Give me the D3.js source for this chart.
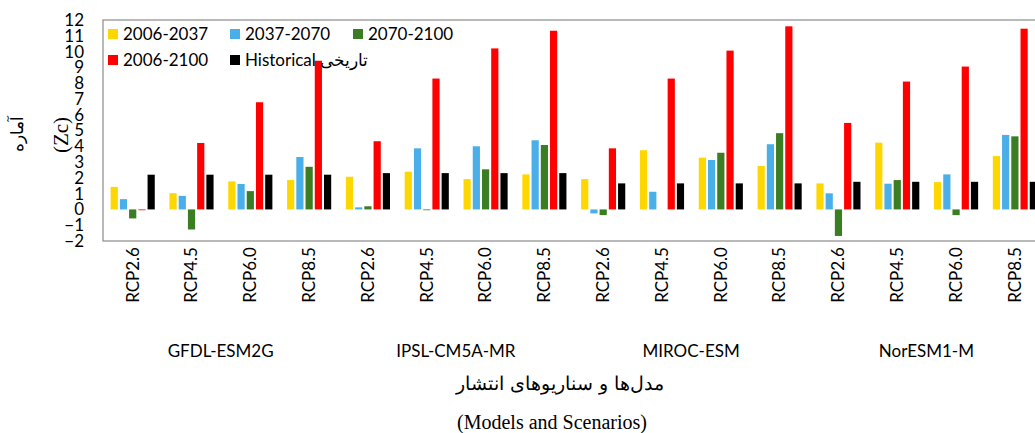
<!DOCTYPE html>
<html>
<head>
<meta charset="utf-8">
<script src="https://cdnjs.cloudflare.com/ajax/libs/d3/7.8.5/d3.min.js"></script>
<style>
  body { margin: 0; background: #fff; }
  svg { display: block; }
  .tick-lbl { font-family: Lato, 'Open Sans', sans-serif; font-size: 17px; fill: #000; }
  .serif { font-family: 'Liberation Serif', 'DejaVu Serif', serif; fill: #000; }
</style>
</head>
<body>
<div id="chart"></div>
<script>
// data
var models = ['GFDL-ESM2G', 'IPSL-CM5A-MR', 'MIROC-ESM', 'NorESM1-M'];
var scenarios = ['RCP2.6', 'RCP4.5', 'RCP6.0', 'RCP8.5'];
var seriesNames = ['2006-2037', '2037-2070', '2070-2100', '2006-2100', 'Historical تاریخی'];
var yTicks = [-2, -1, 0, 1, 2, 3, 4, 5, 6, 7, 8, 9, 10, 11, 12];

var p2006_2037 = [1.43, 1.03, 1.78, 1.86, 2.07, 2.39, 1.92, 2.22, 1.92, 3.75, 3.28, 2.75, 1.65, 4.23, 1.73, 3.38];
var p2037_2070 = [0.65, 0.86, 1.61, 3.32, 0.13, 3.87, 4.0, 4.38, -0.25, 1.12, 3.13, 4.13, 1.02, 1.63, 2.22, 4.72];
var p2070_2100 = [-0.57, -1.27, 1.16, 2.7, 0.2, -0.05, 2.54, 4.08, -0.36, 0, 3.59, 4.83, -1.68, 1.86, -0.36, 4.63];
var p2006_2100 = [-0.05, 4.21, 6.79, 9.42, 4.32, 8.29, 10.2, 11.32, 3.87, 8.29, 10.06, 11.6, 5.48, 8.1, 9.05, 11.45];
var historical = [2.2, 2.2, 2.2, 2.2, 2.3, 2.3, 2.3, 2.3, 1.65, 1.65, 1.65, 1.65, 1.75, 1.75, 1.75, 1.75];

var colors = ['#ffd700', '#4aaee8', '#3a7d22', '#ff0000', '#000000'];

var svgWidth = 1035;
var svgHeight = 433;

var margin = { top: 20, right: -9, bottom: 192, left: 103 };
var width = svgWidth - margin.left - margin.right;
var height = svgHeight - margin.top - margin.bottom;

var svg = d3
  .select('#chart')
  .append('svg')
  .attr('width', svgWidth)
  .attr('height', svgHeight);

var chartGroup = svg
  .append('g')
  .attr('transform', `translate(${margin.left}, ${margin.top})`);

// one row per model/scenario pair
var categories = [];
models.forEach(function (m) {
  scenarios.forEach(function (s) {
    categories.push({ model: m, scen: s });
  });
});
var allSeries = [p2006_2037, p2037_2070, p2070_2100, p2006_2100, historical];

var x0 = d3.scaleBand().domain(d3.range(categories.length)).range([0, width]);
var x1 = d3
  .scaleBand()
  .domain(d3.range(seriesNames.length))
  .range([x0.bandwidth() * 0.13, x0.bandwidth() * 0.88])
  .paddingInner(0.22);
var y = d3.scaleLinear().domain([-2, 12]).range([height, 0]);

// frame
chartGroup
  .append('rect')
  .attr('x', 0)
  .attr('y', 0)
  .attr('width', width)
  .attr('height', height)
  .attr('fill', 'none')
  .attr('stroke', '#8a8a8a')
  .attr('stroke-width', 1.2);

// bars
var catGroups = chartGroup
  .selectAll('.cat')
  .data(categories)
  .enter()
  .append('g')
  .attr('transform', (d, i) => `translate(${x0(i)},0)`);

catGroups
  .selectAll('rect')
  .data((d, i) => allSeries.map((arr, k) => ({ k: k, v: arr[i] })))
  .enter()
  .append('rect')
  .attr('x', (d) => x1(d.k))
  .attr('width', x1.bandwidth())
  .attr('y', (d) => y(Math.max(0, d.v)))
  .attr('height', (d) => Math.abs(y(d.v) - y(0)))
  .attr('fill', (d) => colors[d.k]);

// y axis labels (no line, no ticks)
var leftAxis = d3.axisLeft(y).tickValues(yTicks).tickSize(0).tickPadding(19);
var yAxis = chartGroup.append('g').call(leftAxis);
yAxis.select('.domain').remove();
yAxis.selectAll('text').attr('class', 'tick-lbl').attr('font-family', null).attr('font-size', null);

// scenario labels, rotated
var bottomAxis = d3.axisBottom(x0).tickSize(0).tickFormat((i) => categories[i].scen);
var xAxis = chartGroup
  .append('g')
  .attr('transform', `translate(0, ${height})`)
  .call(bottomAxis);
xAxis.select('.domain').remove();
xAxis
  .selectAll('text')
  .attr('class', 'tick-lbl')
  .attr('font-family', null)
  .attr('font-size', null)
  .attr('transform', 'rotate(-90)')
  .attr('text-anchor', 'end')
  .attr('x', -6)
  .attr('y', 0)
  .attr('dy', '0.36em');

// model labels
models.forEach(function (m, j) {
  var cx = (x0(j * 4) + x0(j * 4 + 3) + x0.bandwidth()) / 2;
  chartGroup
    .append('text')
    .attr('class', 'tick-lbl')
    .attr('x', cx)
    .attr('y', 351 - margin.top)
    .attr('dy', '0.36em')
    .attr('text-anchor', 'middle')
    .text(m);
});

// axis titles
svg
  .append('text')
  .attr('class', 'serif')
  .attr('transform', 'translate(560, 383) ')
  .attr('text-anchor', 'middle')
  .attr('dy', '0.36em')
  .style('font-size', '19px')
  .style('font-family', "'DejaVu Serif', serif")
  .text('مدل‌ها و سناریوهای انتشار');

svg
  .append('text')
  .attr('class', 'serif')
  .attr('x', 552)
  .attr('y', 422)
  .attr('dy', '0.36em')
  .attr('text-anchor', 'middle')
  .style('font-size', '20px')
  .text('(Models and Scenarios)');

svg
  .append('text')
  .attr('class', 'serif')
  .attr('transform', 'translate(17, 134) rotate(-90)')
  .attr('text-anchor', 'middle')
  .attr('dy', '0.36em')
  .style('font-size', '17px')
  .style('font-family', "'DejaVu Serif', serif")
  .text('آماره');

svg
  .append('text')
  .attr('class', 'serif')
  .attr('transform', 'translate(60, 135) rotate(-90)')
  .attr('text-anchor', 'middle')
  .attr('dy', '0.36em')
  .style('font-size', '21px')
  .text('(Zc)');

// legend
var legendPos = [
  [108, 34], [230, 34], [353, 34],
  [108, 60], [230, 60],
];
var legend = svg
  .selectAll('.legend')
  .data(seriesNames)
  .enter()
  .append('g')
  .attr('transform', (d, i) => `translate(${legendPos[i][0]}, ${legendPos[i][1]})`);

legend
  .append('rect')
  .attr('x', 0)
  .attr('y', -5)
  .attr('width', 10)
  .attr('height', 10)
  .attr('fill', (d, i) => colors[i]);

legend
  .append('text')
  .attr('class', 'tick-lbl')
  .attr('x', 15)
  .attr('y', 0)
  .attr('dy', '0.36em')
  .attr('direction', 'ltr')
  .text((d) => d);
</script>
</body>
</html>
